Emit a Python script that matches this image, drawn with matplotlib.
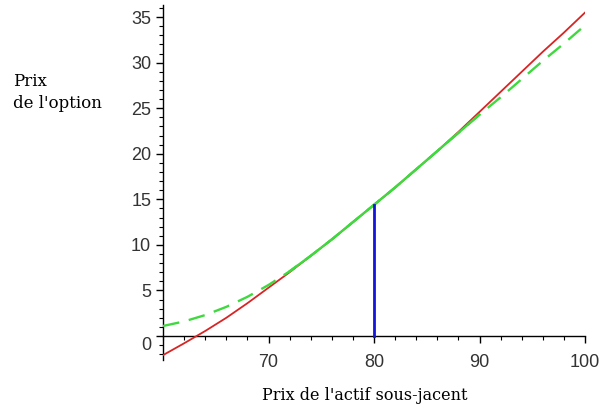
import matplotlib
matplotlib.use("Agg")
import matplotlib.pyplot as plt
from matplotlib.ticker import MultipleLocator
from matplotlib.transforms import ScaledTranslation

plt.rcParams['lines.scale_dashes'] = False

# Data
s = [60, 62, 64, 66, 68, 70, 72, 74, 76, 78, 80, 82, 84, 86, 88, 90, 92, 94, 96, 98, 100]
red_vals = [-2.1, -0.8, 0.55, 2.0, 3.6, 5.3, 7.0, 8.8, 10.6, 12.5, 14.4, 16.3, 18.3,
            20.3, 22.4, 24.6, 26.8, 29.0, 31.2, 33.3, 35.5]
green_vals = [1.1, 1.6, 2.3, 3.2, 4.3, 5.6, 7.1, 8.8, 10.6, 12.5, 14.4, 16.3, 18.3,
              20.3, 22.3, 24.3, 26.2, 28.2, 30.2, 32.1, 34.1]
solid_start, solid_end = 72, 90
strike_x = 80
strike_top = 14.4
xticks = [70, 80, 90, 100]
yticks = [0, 5, 10, 15, 20, 25, 30, 35]

W, H = 603, 409
fig = plt.figure(figsize=(W / 100, H / 100), dpi=100)
fig.patch.set_facecolor('white')
ax = fig.add_axes([163 / W, 1 - 359.7 / H, 422 / W, (359.7 - 5.3) / H])

RED = '#d92424'
GREEN = '#3fd93f'
BLUE = '#1414dc'

ax.plot(s, red_vals, color=RED, lw=1.3, zorder=3)
ax.plot(s, green_vals, color=GREEN, lw=1.7, dashes=(12, 7), zorder=4)
sub = [(x, y) for x, y in zip(s, green_vals) if solid_start <= x <= solid_end]
ax.plot([p[0] for p in sub], [p[1] for p in sub], color=GREEN, lw=1.7, zorder=5)
ax.plot([strike_x, strike_x], [0, strike_top], color=BLUE, lw=2.0, zorder=6)

ax.set_xlim(60, 100)
ax.set_ylim(-2.6, 36.3)

ax.spines['top'].set_visible(False)
ax.spines['right'].set_visible(False)
ax.spines['bottom'].set_position(('data', 0))
ax.spines['left'].set_position(('data', 60))
for sp in ('bottom', 'left'):
    ax.spines[sp].set_linewidth(1.0)
    ax.spines[sp].set_color('black')

ax.set_xticks(xticks)
ax.set_yticks(yticks)
ax.xaxis.set_minor_locator(MultipleLocator(2))
ax.yaxis.set_minor_locator(MultipleLocator(1))
ax.tick_params(axis='both', which='major', direction='out', length=5, width=1,
               labelsize=13, colors='black')
ax.tick_params(axis='both', which='minor', direction='out', length=3, width=0.8)
ax.tick_params(axis='x', which='major', pad=8)
for lab in ax.get_xticklabels() + ax.get_yticklabels():
    lab.set_fontfamily('Liberation Sans')
    lab.set_color('#333333')

# the "0" label sits slightly below the axis in the reference
ylabs = ax.get_yticklabels()
ylabs[0].set_transform(ylabs[0].get_transform() + ScaledTranslation(0, -7 / 100, fig.dpi_scale_trans))

fig.text(13 / W, 1 - 73 / H, "Prix\nde l'option", ha='left', va='top',
         family='DejaVu Serif', fontsize=12, linespacing=1.35)
fig.text(365 / W, 1 - 395 / H, "Prix de l'actif sous-jacent", ha='center', va='center',
         family='DejaVu Serif', fontsize=11.5)

fig.savefig('out.png', dpi=100, facecolor='white')
